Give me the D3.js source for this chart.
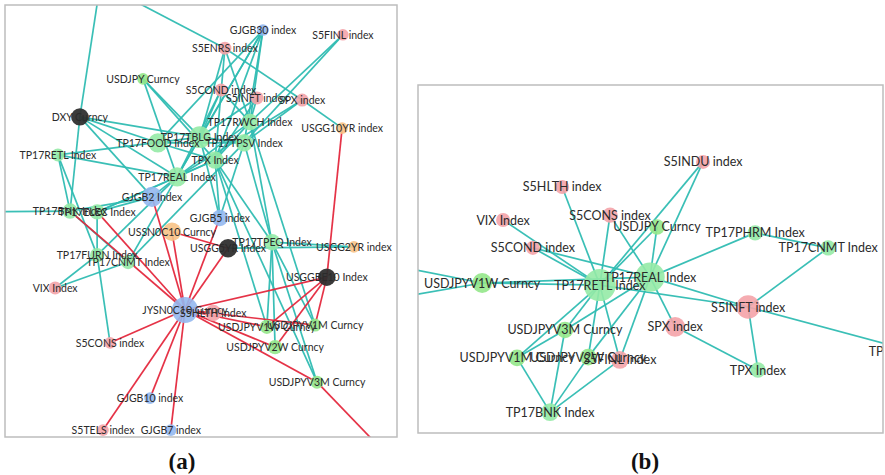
<!DOCTYPE html>
<html>
<head>
<meta charset="utf-8">
<script src="https://cdn.jsdelivr.net/npm/d3@7"></script>
<style>
  html, body { margin: 0; padding: 0; background: #fff; }
  svg { display: block; }
</style>
</head>
<body>
<svg id="chart" width="885" height="475"></svg>
<script>
// ---------- Network (a): layout coordinates in 0-100 units ----------
const aNames = [
  "GJGB30 index", "S5FINL index", "S5ENRS index", "USDJPY Curncy", "S5COND index",
  "S5INFT index", "SPX index", "USGG10YR index", "DXY Curncy", "TP17RWCH Index",
  "TP17TBLG Index", "TP17TPSV Index", "TP17FOOD Index", "TPX Index", "TP17REAL Index",
  "GJGB2 Index", "TP17BNK Index", "TP17ELEC Index", "GJGB5 index", "USSN0C10 Curncy",
  "USGG5YR Index", "TP17TPEQ Index", "USGG2YR index", "USGGBE10 Index", "TP17FURN Index",
  "TP17CNMT Index", "VIX Index", "JYSN0C10 Curncy", "S5HLTH Index", "USDJPYV1M Curncy",
  "USDJPYV1W Curncy", "USDJPYV2W Curncy", "USDJPYV3M Curncy", "S5CONS index", "GJGB10 index",
  "S5TELS index", "GJGB7 index", "TP17RETL Index",
  "S5MATR index", "S5UTIL index", "TP17CHEM Index", "USGG30YR index"
];
const aGroups = [
  "jgb", "spx", "spx", "fx", "spx",
  "spx", "spx", "ust", "dxy", "tpx",
  "tpx", "tpx", "tpx", "tpx", "tpx",
  "jgb", "tpx", "tpx", "jgb", "ust",
  "dxy", "tpx", "ust", "dxy", "tpx",
  "tpx", "spx", "jgb", "spx", "fx",
  "fx", "fx", "fx", "spx", "jgb",
  "spx", "jgb", "tpx",
  "spx", "spx", "tpx", "ust"
];
const aX = [
  65.8, 86.2, 56.1, 35.2, 55.1,
  64.3, 75.8, 86.0, 19.1, 62.5,
  49.7, 61.0, 39.0, 53.6, 43.9,
  37.5, 16.6, 23.5, 54.8, 42.6,
  56.9, 68.1, 89.0, 82.1, 23.5,
  31.4, 12.8, 45.9, 53.1, 79.1,
  66.8, 68.9, 79.6, 26.8, 37.0,
  25.0, 42.3, 13.5,
  26.0, 3.3, -28.0, 100.5
];
const aY = [
  5.8, 6.9, 10.0, 17.1, 19.7,
  21.5, 22.0, 28.5, 25.9, 27.1,
  30.6, 31.9, 31.9, 35.9, 39.8,
  44.4, 47.7, 47.9, 49.3, 52.5,
  56.3, 54.9, 56.0, 63.0, 57.9,
  59.5, 65.5, 70.6, 71.3, 74.1,
  74.5, 79.2, 87.3, 78.2, 91.0,
  98.4, 98.4, 34.7,
  -15.0, -15.0, 48.1, 107.0
];
const aWeight = [
  4, 4, 5, 4, 5,
  5, 5, 4, 9, 8,
  14, 9, 11, 9, 11,
  12, 7, 7, 8, 10,
  10, 8, 4, 9, 6,
  6, 5, 20, 8, 5,
  6, 6, 5, 4, 4,
  4, 4, 5,
  4, 4, 4, 4
];
const aTeal = [
  ["S5MATR index", "DXY Curncy"], ["S5UTIL index", "S5ENRS index"], ["TP17CHEM Index", "TP17BNK Index"],
  ["GJGB30 index", "TP17RWCH Index"], ["GJGB30 index", "TP17TBLG Index"], ["GJGB30 index", "TPX Index"],
  ["GJGB30 index", "TP17TPSV Index"], ["GJGB30 index", "TP17REAL Index"], ["GJGB30 index", "TP17FOOD Index"],
  ["S5FINL index", "TP17TPSV Index"], ["S5FINL index", "TP17RWCH Index"],
  ["S5ENRS index", "SPX index"], ["SPX index", "USGG10YR index"],
  ["S5ENRS index", "TP17RWCH Index"], ["S5ENRS index", "TP17TBLG Index"], ["S5ENRS index", "TPX Index"],
  ["S5COND index", "TP17TBLG Index"], ["S5COND index", "TP17REAL Index"], ["S5COND index", "TP17RWCH Index"],
  ["S5INFT index", "TP17RWCH Index"], ["S5INFT index", "TP17TBLG Index"], ["S5INFT index", "TPX Index"],
  ["SPX index", "TP17TPSV Index"], ["SPX index", "TP17REAL Index"],
  ["USDJPY Curncy", "TP17TBLG Index"], ["USDJPY Curncy", "TP17REAL Index"], ["USDJPY Curncy", "TPX Index"],
  ["DXY Curncy", "TP17TBLG Index"], ["DXY Curncy", "TP17FOOD Index"], ["DXY Curncy", "TP17REAL Index"],
  ["DXY Curncy", "GJGB2 Index"], ["DXY Curncy", "TP17BNK Index"],
  ["TP17RETL Index", "TP17TBLG Index"], ["TP17RETL Index", "TP17BNK Index"], ["TP17RETL Index", "TP17REAL Index"],
  ["TP17RETL Index", "TP17FURN Index"],
  ["TP17FOOD Index", "TP17TPSV Index"], ["TP17FOOD Index", "TPX Index"],
  ["TP17TBLG Index", "TP17TPSV Index"], ["TP17TBLG Index", "TP17REAL Index"], ["TP17TBLG Index", "GJGB5 index"],
  ["TP17RWCH Index", "TPX Index"], ["TP17RWCH Index", "TP17TPEQ Index"], ["TP17RWCH Index", "TP17REAL Index"],
  ["TPX Index", "TP17REAL Index"], ["TPX Index", "GJGB5 index"], ["TPX Index", "TP17TPEQ Index"],
  ["TPX Index", "USDJPYV1W Curncy"], ["TP17TPSV Index", "TP17TPEQ Index"],
  ["TP17REAL Index", "GJGB2 Index"], ["TP17REAL Index", "TP17ELEC Index"], ["TP17REAL Index", "TP17FURN Index"],
  ["TP17REAL Index", "TP17CNMT Index"], ["GJGB2 Index", "TP17ELEC Index"], ["GJGB2 Index", "TP17BNK Index"],
  ["TP17ELEC Index", "TP17FURN Index"], ["TP17ELEC Index", "TPX Index"], ["TP17BNK Index", "TP17CNMT Index"],
  ["TP17FURN Index", "VIX Index"], ["TP17CNMT Index", "VIX Index"], ["TP17FURN Index", "S5CONS index"],
  ["TP17CNMT Index", "TP17TPSV Index"],
  ["TP17TPEQ Index", "USGG2YR index"], ["USGG5YR Index", "USGG2YR index"],
  ["TP17TPEQ Index", "USDJPYV1W Curncy"], ["TP17TPEQ Index", "USDJPYV1M Curncy"],
  ["TP17TPEQ Index", "USDJPYV3M Curncy"], ["TP17TPEQ Index", "USDJPYV2W Curncy"],
  ["TP17RWCH Index", "USDJPYV1M Curncy"], ["TPX Index", "USDJPYV3M Curncy"],
  ["TP17TPSV Index", "GJGB5 index"]
];
const aRed = [
  ["JYSN0C10 Curncy", "S5CONS index"], ["JYSN0C10 Curncy", "GJGB10 index"], ["JYSN0C10 Curncy", "S5TELS index"],
  ["JYSN0C10 Curncy", "GJGB7 index"], ["JYSN0C10 Curncy", "USSN0C10 Curncy"], ["JYSN0C10 Curncy", "GJGB2 Index"],
  ["JYSN0C10 Curncy", "USGG5YR Index"], ["JYSN0C10 Curncy", "GJGB5 index"], ["JYSN0C10 Curncy", "USGGBE10 Index"],
  ["JYSN0C10 Curncy", "TP17BNK Index"], ["JYSN0C10 Curncy", "TP17ELEC Index"], ["JYSN0C10 Curncy", "S5HLTH Index"],
  ["JYSN0C10 Curncy", "USDJPYV1M Curncy"], ["JYSN0C10 Curncy", "USDJPYV3M Curncy"],
  ["JYSN0C10 Curncy", "USDJPYV2W Curncy"], ["JYSN0C10 Curncy", "USDJPYV1W Curncy"],
  ["USGG10YR index", "USGGBE10 Index"], ["USGGBE10 Index", "USDJPYV1W Curncy"],
  ["USGGBE10 Index", "USDJPYV2W Curncy"], ["USGGBE10 Index", "USDJPYV1M Curncy"],
  ["USDJPYV3M Curncy", "USGG30YR index"], ["USSN0C10 Curncy", "USGG5YR Index"]
];

// ---------- Network (b) ----------
const bNames = [
  "S5INDU index", "S5HLTH index", "VIX Index", "S5CONS index", "USDJPY Curncy",
  "S5COND index", "TP17PHRM Index", "TP17CNMT Index", "TP17REAL Index", "TP17RETL Index",
  "USDJPYV1W Curncy", "S5INFT index", "SPX index", "USDJPYV3M Curncy", "USDJPYV1M Curncy",
  "USDJPYV2W Curncy", "S5FINL index", "TPX Index", "TP17BNK Index",
  "TP17TPEQ Index", "TP17ELEC Index", "TP17FOOD Index"
];
const bGroups = [
  "spx", "spx", "spx", "spx", "fx",
  "spx", "tpx", "tpx", "tpx", "tpx",
  "fx", "spx", "spx", "fx", "fx",
  "fx", "spx", "tpx", "tpx",
  "tpx", "tpx", "tpx"
];
const bX = [
  61.3, 31.0, 18.3, 41.3, 51.4,
  24.7, 72.5, 88.2, 49.9, 39.1,
  13.8, 71.0, 55.3, 31.6, 21.3,
  36.6, 43.4, 73.1, 28.4,
  107.1, -28.0, -28.0
];
const bY = [
  22.1, 29.3, 38.8, 37.4, 40.8,
  46.8, 42.5, 46.8, 55.2, 57.5,
  56.9, 63.8, 69.5, 70.4, 78.4,
  78.2, 79.0, 81.9, 94.0,
  76.7, 46.0, 66.5
];
const bWeight = [
  5, 5, 5, 6, 6,
  5, 6, 6, 22, 26,
  10, 14, 10, 7, 7,
  7, 8, 6, 8,
  5, 4, 4
];
const bTeal = [
  ["S5INDU index", "TP17REAL Index"], ["S5INDU index", "TP17RETL Index"],
  ["S5HLTH index", "TP17RETL Index"],
  ["VIX Index", "TP17RETL Index"], ["S5COND index", "TP17RETL Index"], ["S5COND index", "TP17REAL Index"],
  ["S5CONS index", "TP17RETL Index"], ["S5CONS index", "TP17REAL Index"],
  ["USDJPY Curncy", "TP17REAL Index"], ["USDJPY Curncy", "TP17RETL Index"],
  ["TP17PHRM Index", "TP17REAL Index"], ["TP17PHRM Index", "TP17CNMT Index"],
  ["TP17CNMT Index", "S5INFT index"],
  ["S5INFT index", "TP17REAL Index"], ["S5INFT index", "TP17RETL Index"], ["S5INFT index", "TPX Index"],
  ["S5INFT index", "TP17TPEQ Index"],
  ["SPX index", "TP17REAL Index"], ["SPX index", "TPX Index"],
  ["USDJPYV1W Curncy", "TP17RETL Index"], ["USDJPYV1W Curncy", "TP17REAL Index"],
  ["TP17ELEC Index", "USDJPYV1W Curncy"], ["TP17FOOD Index", "USDJPYV1W Curncy"],
  ["USDJPYV3M Curncy", "TP17RETL Index"], ["USDJPYV3M Curncy", "TP17REAL Index"],
  ["USDJPYV3M Curncy", "TP17BNK Index"], ["USDJPYV3M Curncy", "USDJPYV1M Curncy"],
  ["USDJPYV1M Curncy", "TP17RETL Index"], ["USDJPYV1M Curncy", "TP17BNK Index"],
  ["USDJPYV2W Curncy", "TP17RETL Index"], ["USDJPYV2W Curncy", "TP17REAL Index"],
  ["USDJPYV2W Curncy", "TP17BNK Index"],
  ["S5FINL index", "TP17REAL Index"], ["S5FINL index", "TP17BNK Index"], ["S5FINL index", "TP17RETL Index"]
];
const bRed = [];

const panelLabels = ["(a)", "(b)"];

// ---------- styles ----------
const groupColor = {
  spx: "#f4a3a8",
  tpx: "#95eaa6",
  fx: "#93e78a",
  jgb: "#93b8ef",
  ust: "#f7c286",
  dxy: "#2f2f2f"
};
const tealColor = "#2fbcb2";
const redColor = "#e4283d";

const svg = d3.select("#chart");

function drawPanel(cfg) {
  const { id, box, names, groups, xs, ys, weights, teal, red, fontSize, rMax, wMax, caption, captionX } = cfg;
  const x = d3.scaleLinear().domain([0, 100]).range([box.x, box.x + box.w]);
  const y = d3.scaleLinear().domain([0, 100]).range([box.y, box.y + box.h]);
  const r = d3.scaleSqrt().domain([0, wMax]).range([0, rMax]);

  const nodes = names.map((n, i) => ({ name: n, group: groups[i], x: x(xs[i]), y: y(ys[i]), r: r(weights[i]) }));
  const byName = new Map(nodes.map(d => [d.name, d]));
  const links = [
    ...teal.map(([s, t]) => ({ s: byName.get(s), t: byName.get(t), color: tealColor })),
    ...red.map(([s, t]) => ({ s: byName.get(s), t: byName.get(t), color: redColor }))
  ];

  // labels are only drawn for nodes whose label can reach into the frame
  const labelled = nodes.filter(d =>
    d.y >= box.y && d.y <= box.y + box.h &&
    d.x >= box.x - 60 && d.x <= box.x + box.w + 60);

  svg.append("clipPath").attr("id", "clip-" + id)
    .append("rect").attr("x", box.x).attr("y", box.y).attr("width", box.w).attr("height", box.h);

  const g = svg.append("g").attr("clip-path", `url(#clip-${id})`);

  g.append("g").selectAll("line").data(links).join("line")
    .attr("x1", d => d.s.x).attr("y1", d => d.s.y)
    .attr("x2", d => d.t.x).attr("y2", d => d.t.y)
    .attr("stroke", d => d.color)
    .attr("stroke-width", 1.7)
    .attr("stroke-opacity", 0.95);

  g.append("g").selectAll("circle").data(nodes).join("circle")
    .attr("cx", d => d.x).attr("cy", d => d.y).attr("r", d => d.r)
    .attr("fill", d => groupColor[d.group])
    .attr("fill-opacity", d => d.group === "dxy" ? 0.95 : 0.9);

  g.append("g").selectAll("text").data(labelled).join("text")
    .attr("x", d => d.x).attr("y", d => d.y)
    .attr("dy", "0.36em")
    .attr("text-anchor", "middle")
    .attr("font-family", "Lato, 'Open Sans', sans-serif")
    .attr("font-size", fontSize)
    .attr("fill", "#2b2b2b")
    .text(d => d.name);

  svg.append("rect")
    .attr("x", box.x).attr("y", box.y).attr("width", box.w).attr("height", box.h)
    .attr("fill", "none").attr("stroke", "#bdbdbd").attr("stroke-width", 1.5);

  svg.append("text")
    .attr("x", captionX).attr("y", 469)
    .attr("text-anchor", "middle")
    .attr("font-family", "'Liberation Serif', 'DejaVu Serif', serif")
    .attr("font-weight", "bold")
    .attr("font-size", 23)
    .attr("fill", "#111")
    .text(caption);
}

drawPanel({
  id: "a", box: { x: 5, y: 5, w: 392, h: 432 },
  names: aNames, groups: aGroups, xs: aX, ys: aY, weights: aWeight,
  teal: aTeal, red: aRed, fontSize: 10.5, rMax: 13, wMax: 20,
  caption: panelLabels[0], captionX: 182
});

drawPanel({
  id: "b", box: { x: 418, y: 85, w: 465, h: 348 },
  names: bNames, groups: bGroups, xs: bX, ys: bY, weights: bWeight,
  teal: bTeal, red: bRed, fontSize: 12.5, rMax: 16, wMax: 26,
  caption: panelLabels[1], captionX: 645
});
</script>
</body>
</html>
